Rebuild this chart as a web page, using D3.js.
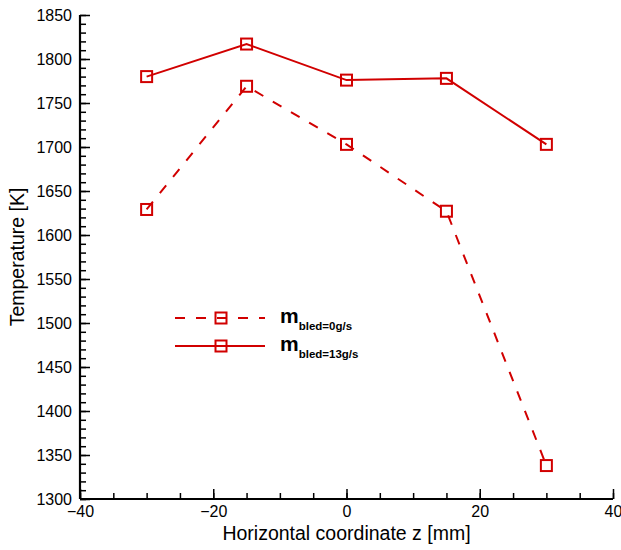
<!DOCTYPE html>
<html>
<head>
<meta charset="utf-8">
<script src="https://cdn.jsdelivr.net/npm/d3@7"></script>
<style>
  body { margin: 0; background: #fff; }
  svg { font-family: "Liberation Sans", Arial, sans-serif; }
</style>
</head>
<body>
<div id="chart"></div>
<script>
// positions along z [mm]
var zPositions = [-30, -15, 0, 15, 30];
// temperature [K] for each bleed rate
var tempBled0 = [1629, 1769, 1703, 1627, 1338];
var tempBled13 = [1780, 1817, 1776, 1778, 1703];
var seriesNames = ["bled=0g/s", "bled=13g/s"];
var xTicks = [-40, -20, 0, 20, 40];
var yTicks = [1300, 1350, 1400, 1450, 1500, 1550, 1600, 1650, 1700, 1750, 1800, 1850];

var W = 621, H = 550;
var margin = {top: 15, right: 8, bottom: 51, left: 80};
var width = W - margin.left - margin.right,
    height = H - margin.top - margin.bottom;
var red = "#d10000";

var svg = d3.select("#chart").append("svg")
    .attr("width", W)
    .attr("height", H)
  .append("g")
    .attr("transform", `translate(${margin.left},${margin.top})`);

var x = d3.scaleLinear().domain([-40, 40]).range([0, width]);
var y = d3.scaleLinear().domain([1300, 1850]).range([height, 0]);

// minor ticks first, then major ones with labels
svg.append("g")
    .attr("transform", `translate(0,${height})`)
    .call(d3.axisTop(x).tickValues(d3.range(-40, 41, 5)).tickSize(6).tickFormat(""))
    .call(g => g.select(".domain").remove());
svg.append("g")
    .call(d3.axisRight(y).tickValues(d3.range(1300, 1851, 10)).tickSize(6).tickFormat(""))
    .call(g => g.select(".domain").remove());

var xAxis = svg.append("g")
    .attr("transform", `translate(0,${height})`)
    .call(d3.axisTop(x).tickValues(xTicks).tickSize(10).tickPadding(-28).tickFormat(d3.format("d")));
var yAxis = svg.append("g")
    .call(d3.axisRight(y).tickValues(yTicks).tickSize(10).tickPadding(-18).tickFormat(d3.format("d")))
    .call(g => g.selectAll("text").attr("text-anchor", "end"));

svg.selectAll(".tick line").attr("stroke", "#000").attr("stroke-width", 1.5);
[xAxis, yAxis].forEach(g => {
  g.select(".domain").attr("stroke-width", 2.2);
  g.selectAll("text").attr("font-size", 16).attr("fill", "#000")
    .attr("font-family", "Liberation Sans, Arial, sans-serif");
});
xAxis.select(".domain").attr("d", `M0,0H${width}`);
yAxis.select(".domain").attr("d", `M0,${height}V0`);

svg.append("text")
    .attr("x", width / 2)
    .attr("y", height + 41)
    .attr("text-anchor", "middle")
    .attr("font-size", 19.5)
    .text("Horizontal coordinate z [mm]");

svg.append("text")
    .attr("transform", `translate(-56,${height / 2}) rotate(-90)`)
    .attr("text-anchor", "middle")
    .attr("font-size", 19.5)
    .text("Temperature [K]");

var series = [
  {name: seriesNames[0], values: tempBled0, dash: "10,11"},
  {name: seriesNames[1], values: tempBled13, dash: null}
];

var line = d3.line()
    .x((d, i) => x(zPositions[i]))
    .y(d => y(d));

series.forEach(s => {
  svg.append("path")
      .datum(s.values)
      .attr("d", line)
      .attr("fill", "none")
      .attr("stroke", red)
      .attr("stroke-width", 2)
      .attr("stroke-dasharray", s.dash);

  svg.selectAll(null)
      .data(s.values)
    .enter().append("rect")
      .attr("x", (d, i) => x(zPositions[i]) - 5.5)
      .attr("y", d => y(d) - 5.5)
      .attr("width", 11)
      .attr("height", 11)
      .attr("fill", "none")
      .attr("stroke", red)
      .attr("stroke-width", 2);
});

// legend
var legend = svg.selectAll(".legend")
    .data(series)
  .enter().append("g")
    .attr("class", "legend")
    .attr("transform", (d, i) => `translate(95,${303 + i * 28})`);

legend.append("line")
    .attr("x1", 0).attr("x2", 90)
    .attr("stroke", red)
    .attr("stroke-width", 2)
    .attr("stroke-dasharray", d => d.dash);

legend.append("rect")
    .attr("x", 40.5).attr("y", -5.5)
    .attr("width", 11).attr("height", 11)
    .attr("fill", "none")
    .attr("stroke", red)
    .attr("stroke-width", 2);

var lt = legend.append("text")
    .attr("x", 105)
    .attr("y", 5)
    .attr("font-weight", "bold")
    .attr("font-size", 21);
lt.append("tspan").text("m");
lt.append("tspan")
    .attr("dy", 7)
    .attr("font-size", 11.5)
    .text(d => d.name);
</script>
</body>
</html>
